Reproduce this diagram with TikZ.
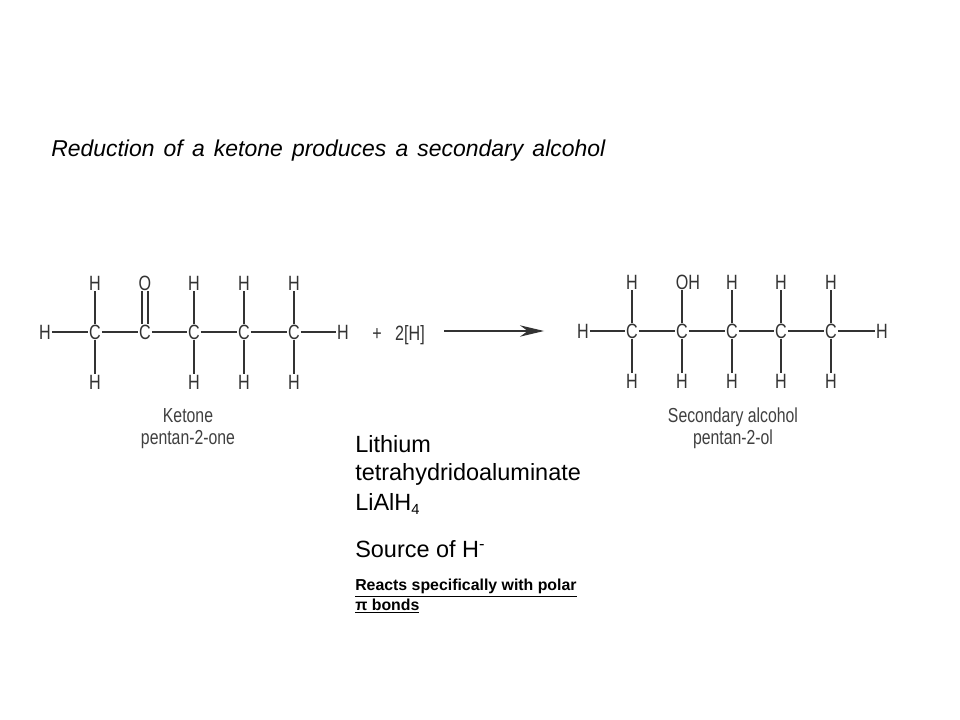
\documentclass[tikz,border=0pt]{standalone}
\usepackage{fontspec}
\setmainfont{Liberation Sans}
\newfontfamily\molfont[FakeStretch=0.78]{Liberation Sans}
\usetikzlibrary{arrows.meta}

\tikzset{
    atom/.style={inner sep=0.5pt, text=black!80, font=\molfont\fontsize{15.5}{17}\selectfont},
    caption/.style={inner sep=0pt, text=black!75, font=\molfont\fontsize{15.2}{17}\selectfont},
    bond/.style={line width=1.2pt, black!80},
    bigtext/.style={anchor=west, inner sep=0pt, font=\fontsize{17.6}{20}\selectfont},
    smalltext/.style={anchor=west, inner sep=0pt, font=\bfseries\fontsize{11.9}{14}\selectfont}
}

\begin{document}
\begin{tikzpicture}[x=0.75pt, y=-0.75pt]
        \useasboundingbox (0,0) rectangle (960,720);
        \fill[white] (0,0) rectangle (960,720);
        \node[bigtext, font=\itshape\fontsize{17.2}{20}\selectfont] (title) at (51,151) {\spaceskip=6.9pt\relax Reduction of a ketone produces a secondary alcohol};
        % ketone
        \node[atom] (k1) at (95,332) {C};
        \node[atom] (k2) at (145,332) {C};
        \node[atom] (k3) at (194,332) {C};
        \node[atom] (k4) at (244,332) {C};
        \node[atom] (k5) at (294,332) {C};
        \node[atom] (kl) at (45,332) {H};
        \node[atom] (kr) at (343,332) {H};
        \node[atom] (kt1) at (95,283) {H};
        \node[atom] (kt2) at (145,283) {O};
        \node[atom] (kt3) at (194,283) {H};
        \node[atom] (kt4) at (244,283) {H};
        \node[atom] (kt5) at (294,283) {H};
        \node[atom] (kb1) at (95,382) {H};
        \node[atom] (kb3) at (194,382) {H};
        \node[atom] (kb4) at (244,382) {H};
        \node[atom] (kb5) at (294,382) {H};
        \draw[bond] (kl) -- (k1);
        \draw[bond] (k1) -- (k2);
        \draw[bond] (k2) -- (k3);
        \draw[bond] (k3) -- (k4);
        \draw[bond] (k4) -- (k5);
        \draw[bond] (k5) -- (kr);
        \draw[bond] (k1) -- (kt1);
        \draw[bond] ([xshift=-2.4pt]k2.north) -- ([xshift=-2.4pt]kt2.south);
        \draw[bond] ([xshift=2.4pt]k2.north) -- ([xshift=2.4pt]kt2.south);
        \draw[bond] (k3) -- (kt3);
        \draw[bond] (k4) -- (kt4);
        \draw[bond] (k5) -- (kt5);
        \draw[bond] (k1) -- (kb1);
        \draw[bond] (k3) -- (kb3);
        \draw[bond] (k4) -- (kb4);
        \draw[bond] (k5) -- (kb5);
        \node[caption] (ketone) at (188,416) {Ketone};
        \node[caption] (ketonename) at (188,440) {pentan-2-one};
        % reagent and arrow
        \node[atom] (plus) at (377,335) {+};
        \node[atom] (reagent) at (410,335) {2[H]};
        \coordinate (arrowstart) at (444,331);
        \coordinate (arrowend) at (544,331);
        \draw[line width=0.8pt, black!80, -{Stealth[length=18pt, width=8.5pt]}] (arrowstart) -- (arrowend);
        % alcohol
        \node[atom] (a1) at (632,331) {C};
        \node[atom] (a2) at (682,331) {C};
        \node[atom] (a3) at (732,331) {C};
        \node[atom] (a4) at (781,331) {C};
        \node[atom] (a5) at (831,331) {C};
        \node[atom] (al) at (583,331) {H};
        \node[atom] (ar) at (882,331) {H};
        \node[atom] (at1) at (632,282) {H};
        \node[atom] (at2) at (688,282) {OH};
        \node[atom] (at3) at (732,282) {H};
        \node[atom] (at4) at (781,282) {H};
        \node[atom] (at5) at (831,282) {H};
        \node[atom] (ab1) at (632,381) {H};
        \node[atom] (ab2) at (682,381) {H};
        \node[atom] (ab3) at (732,381) {H};
        \node[atom] (ab4) at (781,381) {H};
        \node[atom] (ab5) at (831,381) {H};
        \draw[bond] (al) -- (a1);
        \draw[bond] (a1) -- (a2);
        \draw[bond] (a2) -- (a3);
        \draw[bond] (a3) -- (a4);
        \draw[bond] (a4) -- (a5);
        \draw[bond] (a5) -- (ar);
        \draw[bond] (a1) -- (at1);
        \draw[bond] (a2) -- (a2 |- at2.south);
        \draw[bond] (a3) -- (at3);
        \draw[bond] (a4) -- (at4);
        \draw[bond] (a5) -- (at5);
        \draw[bond] (a1) -- (ab1);
        \draw[bond] (a2) -- (ab2);
        \draw[bond] (a3) -- (ab3);
        \draw[bond] (a4) -- (ab4);
        \draw[bond] (a5) -- (ab5);
        \node[caption] (alcohol) at (733,417) {Secondary alcohol};
        \node[caption] (alcoholname) at (733,439) {pentan-2-ol};
        % notes
        \node[bigtext] (lithium) at (355,444) {Lithium};
        \node[bigtext] (tetra) at (355,474) {tetrahydridoaluminate};
        \node[bigtext] (formula) at (355,504) {LiAlH\raisebox{-3pt}{\fontsize{11}{12}\selectfont 4}};
        \node[bigtext] (source) at (355,549) {Source of H\textsuperscript{-}};
        \node[smalltext] (reacts) at (355,588) {\underline{Reacts specifically with polar}};
        \node[smalltext] (bonds) at (355,606) {\underline{π bonds}};
    \end{tikzpicture}
\end{document}
